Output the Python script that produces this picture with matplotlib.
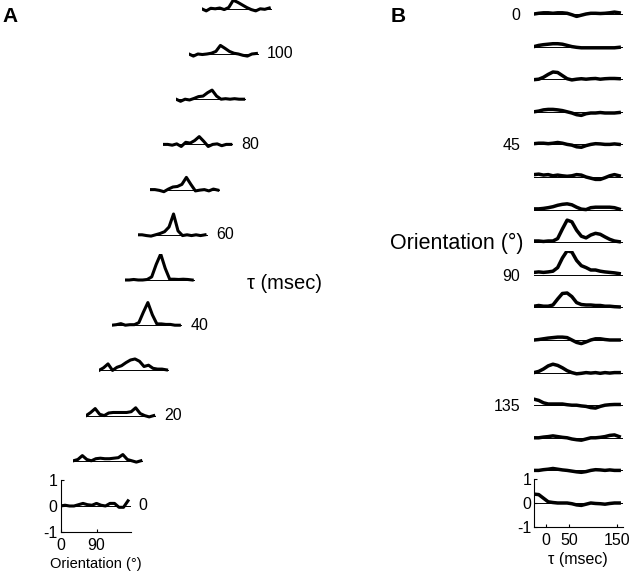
import matplotlib
matplotlib.use('Agg')
import matplotlib.pyplot as plt

plt.rcParams['font.family'] = ['Liberation Sans', 'DejaVu Sans']
plt.rcParams['axes.unicode_minus'] = False

# orientation samples (deg) shared by both panels
ori = [0, 11.25, 22.5, 33.75, 45, 56.25, 67.5, 78.75,
       90, 101.25, 112.5, 123.75, 135, 146.25, 157.5, 168.75]

# panel A: orientation tuning at each delay tau (msec)
tau_a = [0, 10, 20, 30, 40, 50, 60, 70, 80, 90, 100, 110]
tune_0 = [0.0, 0.03, 0.0, 0.0, 0.05, 0.1, 0.05, 0.03, 0.1, 0.03, 0.0, 0.1, 0.1, -0.05, -0.05, 0.2]
tune_10 = [0.0, 0.05, 0.2, 0.05, 0.0, 0.08, 0.1, 0.08, 0.08, 0.1, 0.12, 0.24, 0.05, 0.0, -0.05, 0.0]
tune_20 = [0.0, 0.12, 0.27, 0.05, 0.0, 0.1, 0.12, 0.12, 0.12, 0.12, 0.15, 0.3, 0.08, 0.0, -0.05, 0.0]
tune_30 = [0.0, 0.1, 0.25, 0.0, 0.12, 0.18, 0.3, 0.4, 0.44, 0.35, 0.15, 0.2, 0.08, 0.05, 0.05, 0.02]
tune_40 = [0.0, 0.02, 0.06, 0.0, 0.02, 0.02, 0.1, 0.5, 0.87, 0.4, 0.05, 0.05, 0.03, 0.03, 0.0, 0.0]
tune_50 = [0.0, 0.0, 0.02, 0.0, 0.0, 0.02, 0.12, 0.6, 1.0, 0.45, 0.03, 0.03, 0.02, 0.03, 0.02, 0.0]
tune_60 = [0.0, 0.0, -0.03, -0.05, 0.0, 0.05, 0.12, 0.3, 0.8, 0.15, -0.03, 0.0, -0.03, 0.0, -0.03, 0.0]
tune_70 = [0.0, 0.0, -0.03, -0.08, 0.02, 0.1, 0.12, 0.2, 0.47, 0.2, -0.05, -0.02, 0.0, -0.05, 0.02, -0.02]
tune_80 = [0.0, 0.0, -0.03, 0.02, -0.08, 0.08, 0.05, 0.15, 0.3, 0.12, -0.08, 0.0, 0.02, -0.05, 0.0, 0.0]
tune_90 = [0.0, -0.08, 0.0, -0.03, 0.03, 0.1, 0.12, 0.25, 0.35, 0.12, 0.0, 0.02, 0.0, 0.02, 0.0, 0.0]
tune_100 = [0.0, -0.08, 0.0, -0.02, 0.0, 0.03, 0.1, 0.33, 0.22, 0.1, 0.03, 0.0, -0.05, -0.08, 0.0, 0.02]
tune_110 = [0.0, -0.08, 0.02, 0.0, 0.03, -0.03, 0.05, 0.33, 0.25, 0.15, 0.05, -0.03, -0.08, 0.0, -0.02, 0.03]
tuning_a = [tune_0, tune_10, tune_20, tune_30, tune_40, tune_50,
            tune_60, tune_70, tune_80, tune_90, tune_100, tune_110]

# panel B: response vs delay for each orientation
tau_b = [-25, -15, -5, 5, 15, 25, 35, 45, 55, 65, 75, 85, 95, 105, 115, 125, 135, 145, 155]
dyn_0 = [0.0, 0.03, 0.05, 0.05, 0.03, 0.05, 0.05, 0.03, -0.03, -0.1, -0.05, 0.0, 0.03, 0.03, 0.02, 0.03, 0.05, 0.08, 0.05]
dyn_11 = [0.0, 0.05, 0.08, 0.1, 0.12, 0.12, 0.1, 0.05, 0.0, -0.03, -0.05, -0.05, -0.05, -0.05, -0.05, -0.05, -0.05, -0.05, -0.03]
dyn_22 = [-0.02, 0.0, 0.08, 0.2, 0.3, 0.28, 0.15, 0.02, -0.03, 0.0, 0.02, 0.0, 0.02, 0.03, 0.0, 0.02, 0.03, 0.03, 0.02]
dyn_34 = [0.0, 0.03, 0.08, 0.1, 0.1, 0.08, 0.05, 0.0, -0.05, -0.12, -0.15, -0.08, -0.05, -0.05, -0.03, -0.05, -0.05, -0.05, -0.03]
dyn_45 = [0.03, 0.05, 0.05, 0.03, 0.05, 0.08, 0.05, 0.0, -0.03, -0.1, -0.12, -0.05, 0.0, 0.03, 0.02, 0.0, 0.0, 0.02, 0.0]
dyn_56 = [0.1, 0.12, 0.08, 0.1, 0.05, 0.08, 0.05, 0.03, 0.05, 0.1, 0.08, 0.0, -0.05, -0.1, -0.1, -0.03, 0.05, 0.1, 0.05]
dyn_68 = [0.03, 0.03, 0.05, 0.08, 0.12, 0.18, 0.22, 0.24, 0.2, 0.1, 0.02, 0.0, 0.08, 0.1, 0.1, 0.1, 0.1, 0.08, 0.02]
dyn_79 = [0.05, 0.05, 0.03, 0.05, 0.05, 0.15, 0.55, 0.92, 0.85, 0.5, 0.25, 0.18, 0.3, 0.37, 0.33, 0.22, 0.12, 0.05, 0.02]
dyn_90 = [0.1, 0.12, 0.1, 0.12, 0.15, 0.3, 0.7, 1.0, 0.95, 0.6, 0.38, 0.3, 0.2, 0.2, 0.15, 0.12, 0.1, 0.08, 0.05]
dyn_101 = [0.05, 0.08, 0.05, 0.05, 0.1, 0.35, 0.58, 0.6, 0.45, 0.2, 0.12, 0.1, 0.1, 0.08, 0.08, 0.05, 0.05, 0.03, 0.02]
dyn_112 = [0.0, 0.02, 0.05, 0.08, 0.1, 0.12, 0.12, 0.1, 0.0, -0.1, -0.15, -0.08, 0.0, 0.05, 0.05, 0.02, 0.0, 0.0, 0.0]
dyn_124 = [0.0, 0.05, 0.15, 0.28, 0.35, 0.3, 0.2, 0.08, 0.0, -0.05, -0.03, 0.0, -0.02, 0.0, -0.03, 0.0, -0.02, 0.0, 0.0]
dyn_135 = [0.25, 0.2, 0.1, 0.05, 0.05, 0.05, 0.05, 0.02, 0.0, 0.0, -0.03, -0.05, -0.1, -0.12, -0.05, 0.0, 0.02, 0.03, 0.03]
dyn_146 = [0.0, 0.0, 0.03, 0.05, 0.08, 0.05, 0.02, 0.0, -0.05, -0.08, -0.1, -0.05, 0.0, 0.0, 0.02, 0.05, 0.1, 0.12, 0.05]
dyn_158 = [0.0, 0.0, 0.03, 0.05, 0.08, 0.05, 0.02, 0.0, -0.03, -0.06, -0.08, -0.05, 0.0, 0.03, 0.02, 0.0, 0.02, 0.0, 0.0]
dyn_169 = [0.37, 0.35, 0.2, 0.05, 0.02, 0.0, 0.0, 0.0, -0.03, -0.08, -0.1, -0.05, 0.0, -0.02, -0.03, -0.05, -0.02, 0.0, 0.0]
dynamics_b = [dyn_0, dyn_11, dyn_22, dyn_34, dyn_45, dyn_56, dyn_68, dyn_79,
              dyn_90, dyn_101, dyn_112, dyn_124, dyn_135, dyn_146, dyn_158, dyn_169]

W, H = 634, 574
fig = plt.figure(figsize=(W / 100, H / 100), dpi=100)


def box(left, top, w, h):
    # pixel box (from top-left) -> figure fraction
    return [left / W, 1 - (top + h) / H, w / W, h / H]


def axis_style(ax):
    for s in ['top', 'right']:
        ax.spines[s].set_visible(False)
    for s in ['left', 'bottom']:
        ax.spines[s].set_linewidth(0.8)
    ax.tick_params(direction='in', length=2, width=0.8, labelsize=11.5, pad=2)
    ax.tick_params(axis='x', pad=4)
    ax.set_yticks([-1, 0, 1])


# ---- panel A ----
for k, (t, r) in enumerate(zip(tau_a, tuning_a)):
    left = 60.5 + 12.84 * k
    base = 506 - 45.2 * k
    ax = fig.add_axes(box(left, base - 26, 70, 52))
    ax.patch.set_visible(False)
    ax.axhline(0, color='k', lw=0.7)
    ax.plot(ori, r, color='k', lw=2.2)
    ax.set_xlim(0, 175)
    ax.set_ylim(-1, 1)
    if k == 0:
        axis_style(ax)
        ax.set_xticks([0, 90])
        ax.set_xlabel('Orientation (°)', fontsize=10.5, labelpad=3)
    else:
        ax.axis('off')
    if t % 20 == 0:
        ax.annotate(str(t), xy=(1, 0.5), xycoords='axes fraction',
                    xytext=(6, 0), textcoords='offset points',
                    ha='left', va='center', fontsize=11.5)

# ---- panel B ----
for i, (o, r) in enumerate(zip(ori, dynamics_b)):
    base = 14 + 32.6 * i
    ax = fig.add_axes(box(534, base - 24, 88.5, 48))
    ax.patch.set_visible(False)
    ax.axhline(0, color='k', lw=0.7)
    ax.plot(tau_b, r, color='k', lw=2.5)
    ax.set_xlim(-25, 162)
    ax.set_ylim(-1, 1)
    if i == len(ori) - 1:
        axis_style(ax)
        ax.set_xticks([0, 50, 150])
        ax.set_xlabel('τ (msec)', fontsize=11.5, labelpad=3)
    else:
        ax.axis('off')
    if o % 45 == 0:
        ax.annotate(str(int(o)), xy=(0, 0.5), xycoords='axes fraction',
                    xytext=(-10, -1), textcoords='offset points',
                    ha='right', va='center', fontsize=11.5)

fig.text(247 / W, 1 - 284 / H, 'τ (msec)', fontsize=14.5, ha='left', va='center')
fig.text(523 / W, 1 - 243 / H, 'Orientation (°)', fontsize=15.5, ha='right', va='center')
fig.text(2 / W, 1 - 16 / H, 'A', fontsize=15, fontweight='bold', ha='left', va='center')
fig.text(391 / W, 1 - 16 / H, 'B', fontsize=15, fontweight='bold', ha='left', va='center')

fig.savefig('out.png', dpi=100)
